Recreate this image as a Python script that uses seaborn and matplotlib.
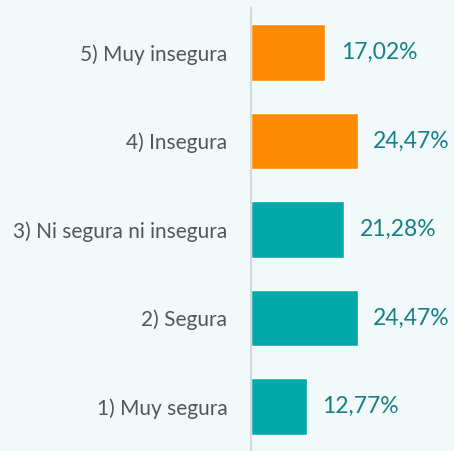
import matplotlib
matplotlib.use("Agg")
import matplotlib.pyplot as plt
import seaborn as sns
import pandas as pd

categories = ["5) Muy insegura", "4) Insegura", "3) Ni segura ni insegura", "2) Segura", "1) Muy segura"]
values = [17.02, 24.47, 21.28, 24.47, 12.77]
labels = ["17,02%", "24,47%", "21,28%", "24,47%", "12,77%"]
colors = ["#ff8c00", "#ff8c00", "#00aaaa", "#00aaaa", "#00aaaa"]

sns.set_theme(style="white")
plt.rcParams["font.family"] = ["Lato", "DejaVu Sans"]

bg = "#f1f9fb"
df = pd.DataFrame({"cat": categories, "val": values})

fig = plt.figure(figsize=(4.54, 4.51), dpi=100, facecolor=bg)
ax = fig.add_axes([251 / 454, 0.0, 1 - 251 / 454, 1 - 8 / 451])
ax.set_facecolor(bg)

sns.barplot(data=df, y="cat", x="val", hue="cat", palette=colors, legend=False,
            width=0.64, saturation=1, ax=ax, order=categories, hue_order=categories)

for cont, lab in zip(ax.containers, labels):
    ax.bar_label(cont, labels=[lab], padding=11, color="#177f86", fontsize=16.5)

ax.set_xlim(0, 46.4)
ax.set_ylim(4.5, -0.5)
ax.set_xlabel("")
ax.set_ylabel("")
ax.set_xticks([])
for s in ["top", "right", "bottom"]:
    ax.spines[s].set_visible(False)
ax.spines["left"].set_color("#d8d8d8")
ax.spines["left"].set_linewidth(1.5)
ax.tick_params(axis="y", length=0, pad=17, labelsize=15, labelcolor="#555555")

fig.savefig("out.png", dpi=100, facecolor=bg)
